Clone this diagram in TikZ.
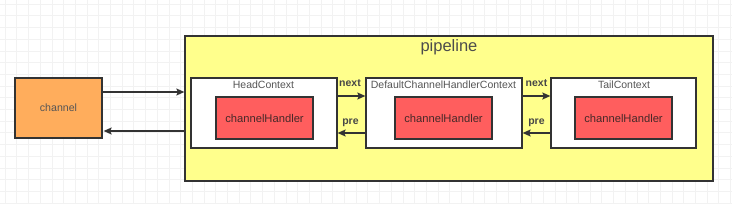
\documentclass[tikz,border=0pt]{standalone}
\usepackage{fontspec}
\setmainfont{Liberation Sans}
\usetikzlibrary{arrows.meta,calc}
\definecolor{txt}{HTML}{555555}
\definecolor{edge}{HTML}{333333}
\definecolor{orangefill}{HTML}{FFAD5C}
\definecolor{redfill}{HTML}{FF5E5E}
\definecolor{yellowfill}{HTML}{FFFF8C}
\definecolor{gridc}{HTML}{F2F2F2}
\tikzset{
  box/.style={draw=edge, line width=1.3pt, inner sep=0pt},
  chbox/.style={box, fill=orangefill, minimum width=87pt, minimum height=60pt, font=\fontsize{10.6}{12}\selectfont, text=txt},
  pipebox/.style={box, fill=yellowfill, minimum width=528pt, minimum height=145pt},
  ctxbox/.style={box, fill=white, minimum height=70pt},
  handlerbox/.style={box, fill=redfill, minimum width=97pt, minimum height=42pt, font=\fontsize{11.2}{13}\selectfont, text=txt!80!red!60!black},
  ctxtitle/.style={font=\fontsize{10.5}{12}\selectfont, text=txt, inner sep=0pt},
  lbl/.style={font=\bfseries\fontsize{10.5}{12}\selectfont, text=edge!90!white, inner sep=0pt},
  conn/.style={draw=edge, line width=1.3pt, -{Stealth[length=8pt,width=7pt,inset=1.5pt]}}
}
\begin{document}
\begin{tikzpicture}[x=1pt,y=-1pt]
\fill[white] (0,0) rectangle (732,204);
\useasboundingbox (0,0) rectangle (732,204);
\foreach \i in {0,...,62} {
  \draw[gridc, line width=0.6pt] ({5+11.7*\i},0) -- ({5+11.7*\i},204);
}
\foreach \j in {0,...,17} {
  \draw[gridc, line width=0.6pt] (0,{4+11.7*\j}) -- (732,{4+11.7*\j});
}
% nodes
\node[chbox] (channel) at (58.5,108) {channel};
\node[pipebox] (pipe) at (449,108.5) {};
\node[font=\fontsize{16.5}{18}\selectfont, text=txt!90!black, inner sep=0pt] (pipetitle) at (449,47) {pipeline};

\node[ctxbox, minimum width=146pt] (head) at (264,113) {};
\node[handlerbox] (headh) at (264.5,118) {channelHandler};
\node[ctxtitle] (headt) at (263.5,84.5) {HeadContext};

\node[ctxbox, minimum width=156pt] (def) at (444,113) {};
\node[handlerbox] (defh) at (443.5,118) {channelHandler};
\node[ctxtitle] (deft) at (443.5,84.5) {DefaultChannelHandlerContext};

\node[ctxbox, minimum width=145pt] (tail) at (623.5,113) {};
\node[handlerbox] (tailh) at (623.5,118) {channelHandler};
\node[ctxtitle] (tailt) at (624,84.5) {TailContext};

% channel <-> pipeline
\coordinate (c1) at ([yshift=16pt]channel.east);
\coordinate (c2) at ([yshift=-23pt]channel.east);
\draw[conn] (c1) -- (c1 -| pipe.west);
\draw[conn] (c2 -| pipe.west) -- ([xshift=1pt]c2);

% next / pre
\coordinate (n1) at ([yshift=17pt]head.east);
\draw[conn] (n1) -- (n1 -| def.west);
\coordinate (p1) at ([yshift=-20pt]def.west);
\draw[conn] (p1) -- (p1 -| head.east);
\node[lbl] (next1) at (350,83.5) {next};
\node[lbl] (pre1) at (350.5,123) {pre};

\coordinate (n2) at ([yshift=17pt]def.east);
\draw[conn] (n2) -- (n2 -| tail.west);
\coordinate (p2) at ([yshift=-20pt]tail.west);
\draw[conn] (p2) -- (p2 -| def.east);
\node[lbl] (next2) at (536.5,83.5) {next};
\node[lbl] (pre2) at (536.5,123) {pre};
\end{tikzpicture}
\end{document}
